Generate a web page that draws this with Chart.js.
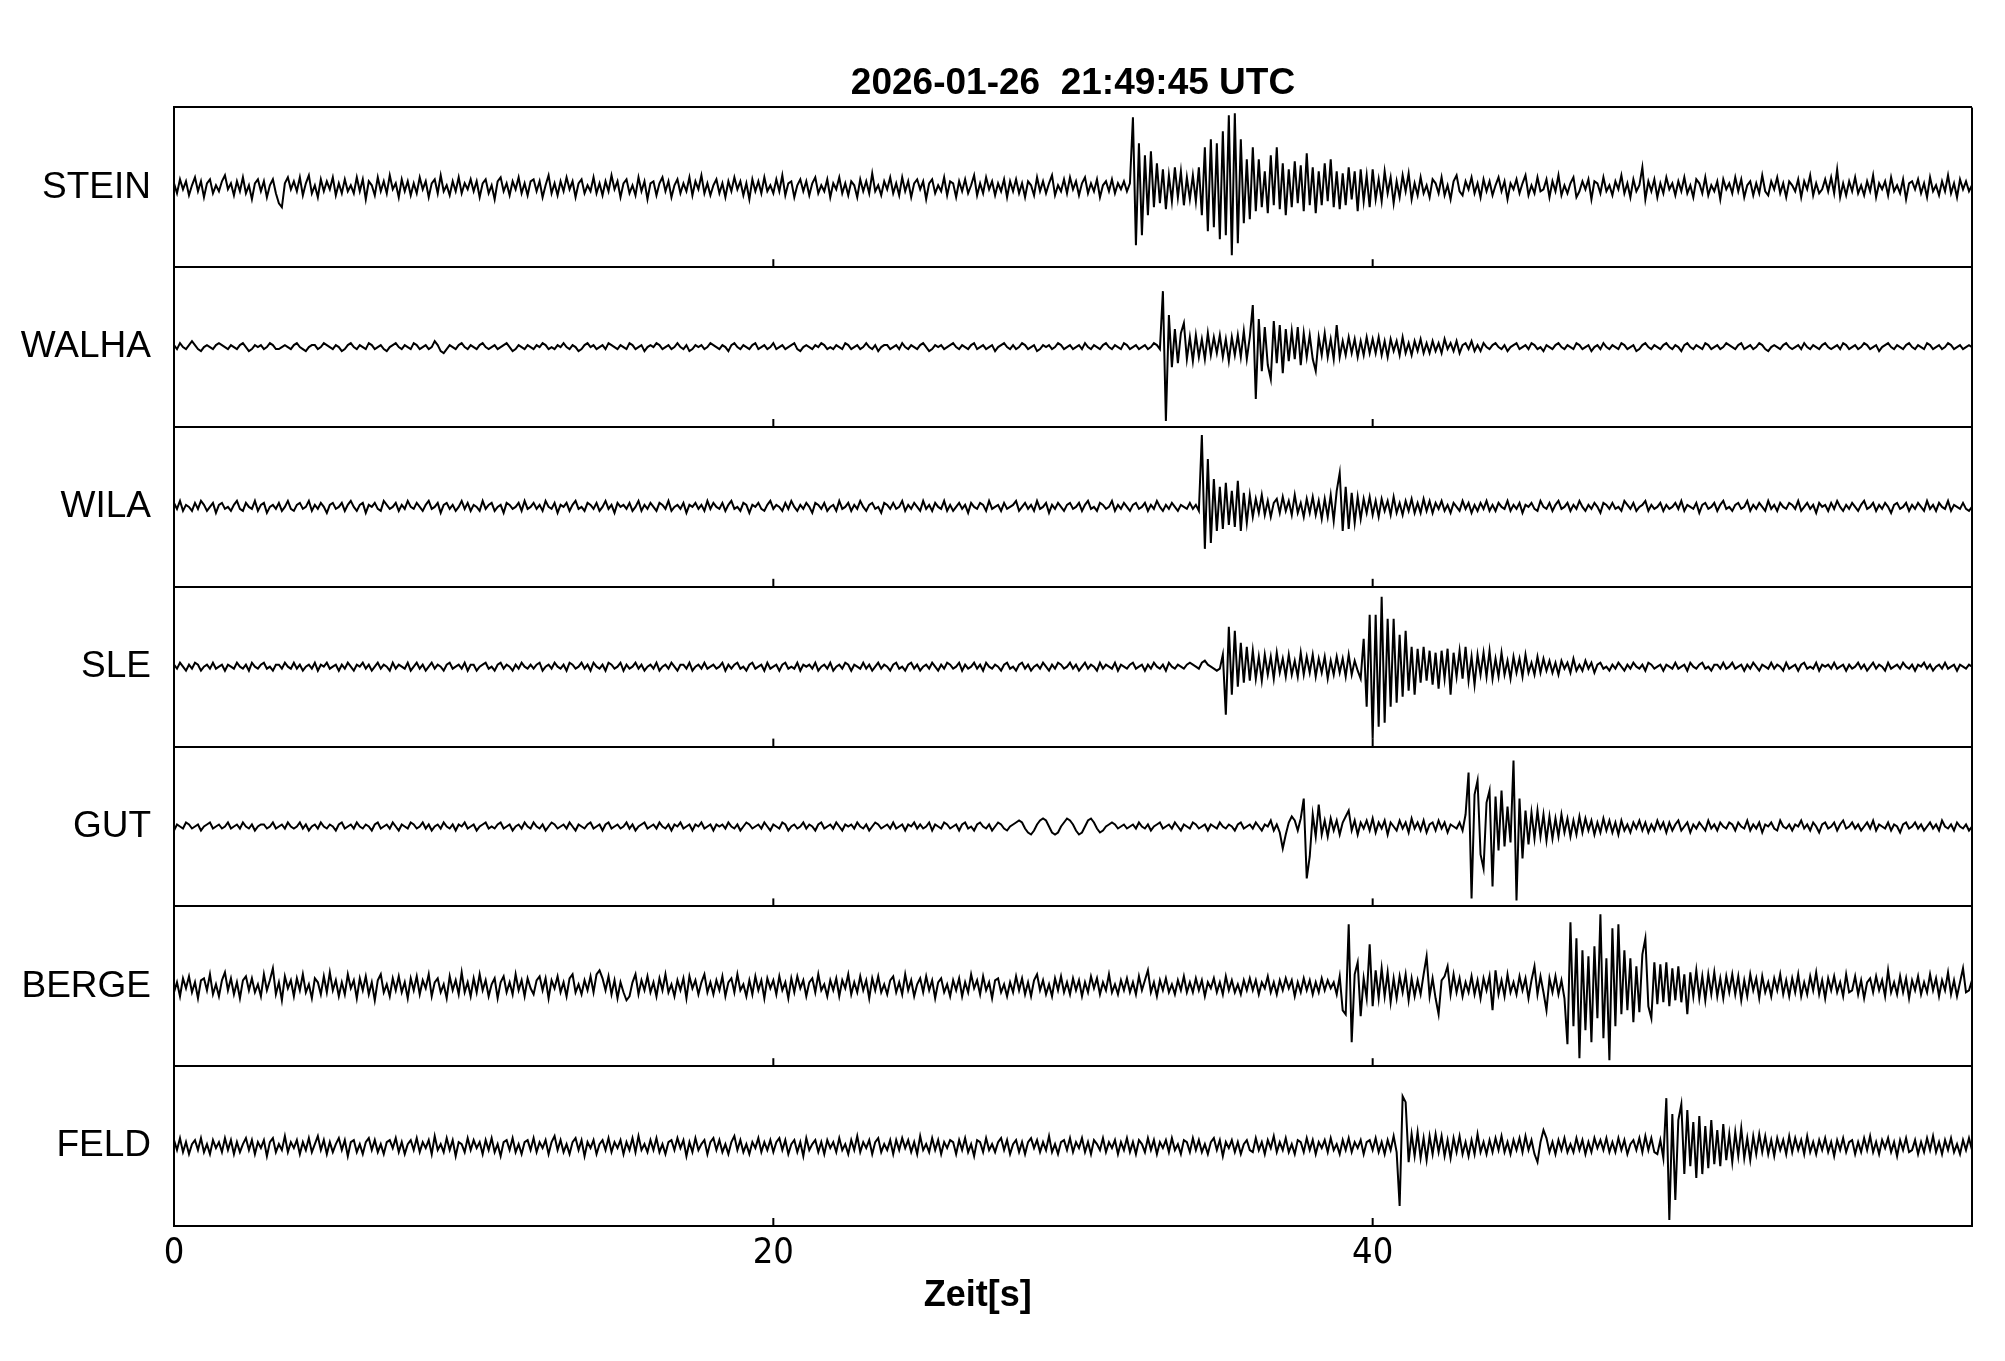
<!DOCTYPE html>
<html>
<head>
<meta charset="utf-8">
<title>Seismogramm</title>
<script src="https://cdn.jsdelivr.net/npm/chart.js@4.4.1/dist/chart.umd.min.js"></script>
<style>
  html, body { margin: 0; padding: 0; background: #fff; }
  #wrap { width: 2005px; height: 1361px; }
</style>
</head>
<body>
<div id="wrap"><canvas id="seis"></canvas></div>
<script>
// Stationen von oben nach unten
const stations = ["STEIN", "WALHA", "WILA", "SLE", "GUT", "BERGE", "FELD"];
const xTicks = [0, 20, 40];
const dt = 0.1; // Abtastung in s, 0..60 s

// Amplituden, eine Zeile = 2 s
const stein = [
  2,-3,4,-1,3,-4,1,5,-2,3,-5,2,4,-3,1,-2,3,6,-1,2,
  -4,3,-2,5,-3,1,-6,2,4,-2,3,-5,1,4,-3,-8,-10,2,5,-1,
  3,-2,5,-4,2,6,-3,1,-5,4,-2,3,-1,5,-4,2,-3,4,-2,1,
  -3,5,-2,4,-6,3,1,-4,5,-2,3,-3,6,-1,2,-5,4,-2,3,-4,
  2,-3,5,-1,3,-5,2,4,-3,6,-2,1,-4,3,-2,5,-3,2,-1,4,
  -2,3,-5,2,4,-3,1,-6,3,5,-2,2,-4,3,-1,5,-3,2,-4,3,
  4,-2,3,-5,1,6,-3,2,-4,3,-2,5,-1,3,-5,2,4,-3,1,-2,
  5,-3,2,-4,3,-2,6,-1,3,-5,2,4,-3,1,-4,5,-2,3,-6,2,
  3,-4,2,5,-2,3,-5,1,4,-3,2,-2,5,-4,3,-1,6,-3,2,-4,
  1,4,-3,2,-5,3,-2,5,-1,3,-4,2,-6,4,-2,3,-3,5,-2,1,
  -3,4,-2,6,-4,2,3,-5,1,4,-2,3,-4,2,5,-3,1,-2,4,-5,
  2,-1,5,-3,2,-4,3,1,-5,4,-2,3,-3,7,-2,1,-4,3,-1,5,
  -3,2,-4,5,-2,3,-5,2,4,-1,3,-6,2,4,-3,1,-2,5,-4,3,
  2,-5,3,-2,4,-3,1,6,-4,2,-3,5,-1,3,-4,2,-2,4,-5,3,
  -2,4,-3,2,-5,3,1,-4,5,-2,3,-3,2,6,-4,1,-2,4,-3,5,
  -1,3,-4,2,5,-3,2,-2,4,-5,1,3,-2,4,-3,2,-1,3,-2,2,
  35,-29,22,-24,16,-14,18,-10,12,-8,9,-11,6,-7,10,-5,8,-9,5,-6,
  6,-7,10,-14,20,-22,24,-20,22,-26,28,-24,36,-34,37,-28,24,-18,14,-16,
  20,-12,14,-10,8,-13,16,-9,20,-11,12,-14,9,-10,13,-8,11,-12,17,-9,
  10,-13,8,-9,12,-7,14,-10,8,-11,7,-9,10,-6,8,-12,9,-7,6,-10,
  9,-6,4,-7,8,-3,5,-8,3,-5,6,-2,7,-6,2,-4,5,-3,1,-5,
  4,2,-3,5,-4,1,-6,3,6,-2,-4,3,-1,5,-3,2,-5,4,-2,3,
  -4,1,5,-2,3,-6,2,-1,4,-3,2,6,-4,1,-3,5,-2,-1,4,-5,
  3,-2,6,-4,1,-3,2,5,-5,-2,3,-1,4,-6,3,2,-3,5,-2,1,
  -4,3,-1,6,-3,2,-5,4,-2,1,10,-6,3,-2,4,-5,2,-3,5,-1,
  2,-4,3,-2,5,-3,1,-5,4,2,-3,5,-4,1,-2,3,-6,4,-1,2,
  -3,5,-2,4,-5,1,3,-4,2,-3,6,-2,-4,3,-1,5,-3,2,-5,3,
  1,-2,4,-5,3,-1,6,-4,2,-3,-1,4,-2,5,-3,9,-5,2,-4,3,
  -2,5,-3,1,-4,3,-2,6,-5,2,-1,3,-4,5,-2,1,-3,4,-6,2,
  3,-1,4,-3,2,-5,5,-2,1,-4,3,-2,6,-3,2,-5,4,-1,3,-2,
  1
];

const walha = [
  1,-1,2,0,-1,1,3,1,-1,-2,0,1,0,-1,1,2,1,0,-1,1,
  0,-1,1,2,0,-2,-1,1,0,1,-1,0,2,1,-1,-1,0,1,0,-1,
  1,2,0,-1,-2,0,1,1,-1,0,2,1,0,-1,1,0,-2,-1,1,2,
  0,-1,1,0,-1,2,1,-1,0,1,-1,-2,0,1,2,0,-1,1,0,-1,
  2,1,-1,0,1,-1,0,3,1,-2,-3,-1,1,0,-1,1,2,0,-1,1,
  0,-1,1,2,0,-1,0,1,-1,0,1,2,0,-2,-1,1,0,-1,1,0,
  -1,1,0,2,1,-1,0,-1,1,0,2,0,-1,1,0,-2,-1,1,2,0,
  1,-1,0,1,-1,2,1,0,-1,1,0,-1,2,1,-1,0,1,-2,0,1,
  0,2,1,-1,0,1,-1,0,2,0,-1,1,-2,-1,1,0,1,-1,0,2,
  1,0,-1,1,0,-2,1,2,0,-1,1,0,-1,1,2,-1,0,1,-1,0,
  2,-1,0,1,-1,0,1,2,-1,-2,0,1,0,-1,1,0,2,1,-1,0,
  -1,1,0,-1,2,1,-1,0,1,-1,0,2,0,-1,1,-2,0,1,1,-1,
  0,1,-1,2,0,-1,1,0,-1,1,2,0,-2,-1,1,0,1,-1,0,1,
  2,0,-1,1,0,-1,1,2,-1,0,1,-1,0,1,-2,0,1,2,0,-1,
  1,-1,0,2,1,-1,0,1,-2,-1,1,0,1,-1,0,2,1,-1,0,1,
  -1,0,1,-1,2,0,-1,1,0,-1,1,2,0,-1,1,0,-1,2,1,-1,
  0,1,-1,0,1,-1,0,2,1,-1,28,-37,16,-10,9,-8,7,12,-6,5,
  -7,6,-5,4,-6,7,-4,5,-3,6,-5,4,-7,5,-4,6,-5,8,-6,5,
  21,-26,14,-12,10,-9,-16,13,-8,11,-13,9,-7,8,-6,10,-9,7,-5,6,
  -6,-12,5,-4,7,-5,4,-6,11,-5,3,-4,5,-3,4,-5,3,-4,5,-3,
  4,-3,5,-4,3,-5,4,-2,3,-4,5,-3,2,-4,3,-2,4,-3,2,-3,
  3,-2,2,-3,4,-1,2,-2,3,-3,1,2,-1,3,-2,1,-2,2,0,-1,
  1,2,0,-1,1,-2,0,1,2,-1,0,1,-1,2,1,-1,0,-2,1,0,
  -1,1,2,0,-1,1,0,-1,2,1,-1,0,1,-2,0,1,-1,2,0,-1,
  1,0,-1,2,1,-1,0,1,-2,-1,1,2,0,-1,1,0,-1,1,2,0,
  -1,1,0,-2,1,2,0,-1,1,0,-1,2,1,-1,0,1,-1,0,2,1,
  0,-1,1,2,-1,0,1,-1,0,2,1,-1,-2,0,1,0,-1,1,2,0,
  -1,0,1,-1,2,0,-1,1,0,-1,1,2,0,-1,0,1,-1,2,1,-1,
  0,1,-1,0,2,1,-1,0,1,-2,0,1,2,0,-1,1,0,-1,1,2,
  0,-1,1,0,-1,2,1,-1,0,1,-1,0,2,1,-1,0,1,-1,0,1,
  0
];

const wila = [
  2,-1,3,-2,1,0,-2,2,-1,3,1,-2,0,2,-3,1,2,-1,0,-2,
  1,3,-1,-2,2,0,-1,3,-2,1,2,-3,0,1,-1,2,-2,0,3,-1,
  -2,1,2,-1,0,3,-2,1,-1,2,0,-3,1,2,-1,0,2,-2,1,3,
  0,-2,1,2,-3,1,0,2,-1,-2,3,1,-1,0,2,-2,1,-1,3,0,
  -1,2,0,-2,1,3,-1,0,2,-3,1,2,-1,1,-2,0,3,-1,2,-2,
  1,0,-2,3,-1,1,2,-2,0,1,-3,2,1,-1,0,2,-2,3,-1,0,
  2,-1,1,-2,3,0,-1,2,-3,1,0,2,-2,1,3,-1,0,-2,2,1,
  -1,2,-2,0,3,-1,1,-3,2,0,1,-1,2,-2,0,3,-2,1,-1,2,
  0,-2,2,1,-1,3,-2,0,1,-1,2,-3,1,0,2,-1,1,-2,3,-1,
  2,0,-1,2,-2,1,3,-1,0,-2,2,1,-3,1,0,2,-1,-2,1,3,
  -1,1,0,-2,2,-1,3,0,-2,1,-1,2,0,-3,2,1,-1,2,-2,0,
  1,-2,3,-1,0,2,-2,1,-1,3,0,-2,1,2,-1,0,-3,2,1,-1,
  2,-1,0,3,-2,1,-1,2,0,-2,3,-1,1,-2,2,0,-1,3,-2,1,
  -2,0,2,-1,1,-3,2,0,-1,2,1,-2,3,-1,0,1,-2,2,-1,0,
  1,3,-2,0,2,-1,1,-2,3,-1,0,2,-3,1,-1,2,0,-2,1,2,
  -1,0,2,-2,1,3,-1,0,-2,2,1,-1,0,3,-2,1,-1,2,0,-2,
  1,2,-1,0,2,-2,1,-1,3,0,-2,1,-1,2,0,-2,1,0,-1,2,
  -1,1,-2,36,-21,24,-18,14,-12,10,-11,12,-9,8,-10,13,-12,7,-8,6,
  -5,4,-3,6,-4,3,-5,2,4,-3,5,-2,3,-4,6,-3,2,-5,4,-3,
  5,-4,3,-6,4,-5,6,-7,8,17,-12,10,-11,7,-8,5,-6,4,-3,5,
  -4,3,-5,4,-2,3,-4,5,-3,2,-4,3,-2,4,-3,2,-3,4,-2,3,
  -3,2,-1,3,-2,1,-3,2,0,-2,3,-1,2,-3,1,-2,2,-1,3,-2,
  1,-2,2,0,-1,3,-2,1,-1,2,-3,1,0,2,-1,-2,3,0,-1,2,
  -2,1,3,-1,0,2,-2,1,-1,3,0,-2,1,-1,2,0,-3,2,1,-1,
  2,-1,0,-2,3,1,-1,2,-2,0,1,3,-2,1,-1,0,2,-2,1,-1,
  0,2,-1,3,-2,1,0,-1,2,-3,1,2,-1,0,2,-2,1,3,-1,0,
  -2,1,2,-1,0,3,-2,1,-1,2,0,-2,3,-1,1,-2,2,0,-1,2,
  1,-1,3,-2,0,2,-1,1,-3,2,0,1,-2,2,-1,3,0,-2,1,-1,
  2,0,-2,1,3,-1,0,2,-2,1,-1,2,0,-3,1,2,-1,0,2,-2,
  1,-1,2,0,-2,3,-1,1,-2,2,0,-1,3,-2,1,0,-1,2,-1,-2,
  0
];

const sle = [
  1,-1,2,0,-2,1,-1,2,1,-2,0,1,-1,2,-1,0,1,-2,1,0,
  -1,2,0,-1,1,-2,2,0,-1,1,2,-1,0,-2,1,1,-1,2,0,-1,
  2,-1,1,-2,0,1,-1,2,-2,1,0,2,-1,0,1,-2,1,-1,2,0,
  -2,1,0,2,-1,1,-2,0,2,-1,1,0,-2,2,-1,1,0,-1,2,-2,
  0,2,-1,1,-2,0,2,-1,1,0,-2,1,2,-1,0,1,-1,2,-2,1,
  1,-2,0,1,2,-1,0,-2,1,2,-1,1,0,-2,1,-1,2,0,-1,1,
  -1,1,2,-2,0,1,-1,2,0,-1,1,-2,2,1,-1,0,2,-1,1,-2,
  2,0,-1,1,-2,2,1,-1,0,2,-2,1,-1,0,2,-1,1,-2,0,1,
  -1,2,-2,0,1,-1,2,0,-2,1,1,-1,2,-2,0,1,-1,2,-1,0,
  1,-1,0,2,-2,1,-1,1,2,-1,0,-2,1,2,-1,0,1,-2,2,-1,
  0,1,-2,1,2,-1,0,-1,2,-2,1,0,1,-1,2,-2,0,1,-1,2,
  -2,0,1,-1,2,1,-2,1,0,-1,2,-1,1,-2,0,2,-1,1,0,-2,
  1,2,-1,0,-2,1,2,-1,1,-2,0,1,-1,2,0,-2,1,-1,2,1,
  -1,0,2,-2,1,-1,0,2,-1,1,-2,2,0,-1,1,0,-2,1,2,-1,
  0,-2,1,2,-1,1,-2,0,1,-1,2,0,-2,1,-1,2,1,-1,0,2,
  -1,1,-2,0,2,-1,1,0,-2,2,-1,1,0,-1,2,-2,1,0,-1,1,
  2,-1,0,1,-2,1,-1,2,0,-1,1,-2,2,0,-1,1,0,-1,1,2,
  1,0,-1,2,3,1,0,-1,-2,-1,6,-24,20,-14,18,-10,12,-8,10,-7,
  8,-6,5,-7,6,-4,5,-6,7,-3,4,-5,6,-4,3,-5,7,-4,5,-3,
  6,-5,4,-3,5,-6,3,-4,5,-3,4,-5,6,-4,3,-2,-6,14,-20,26,
  -36,26,-30,35,-28,24,-20,24,-18,16,-15,18,-12,10,-14,9,-8,10,-7,8,
  -9,7,-11,8,-6,9,-14,7,-5,8,-6,10,-7,5,-9,6,-4,7,-5,8,
  -6,4,-5,7,-4,3,-6,5,-3,4,-5,6,-3,2,-4,5,-3,4,-2,3,
  -3,2,-4,3,-1,2,-3,4,-2,1,-2,3,-1,2,-3,1,2,-1,0,-2,
  1,-1,2,0,-2,1,-1,2,0,-1,1,-2,2,1,-1,0,1,-2,1,0,
  -1,2,-1,0,1,-2,2,0,-1,1,2,-1,0,-2,1,1,-1,2,-1,0,
  2,-1,0,1,-2,1,-1,2,0,-2,1,0,-1,2,-1,1,0,-2,2,-1,
  0,1,-2,1,2,-1,0,-1,2,-2,1,0,1,-1,2,-1,0,1,-2,1,
  -1,0,2,-1,1,-2,0,2,-1,1,0,-2,2,-1,0,1,-1,2,0,-1,
  1,-2,1,0,2,-1,1,-2,0,1,-1,2,-1,0,1,-2,1,0,-1,1,
  0
];

const gut = [
  -2,1,0,-1,2,1,-1,0,1,-2,0,1,2,-1,0,1,-1,0,2,-1,
  0,1,-1,2,0,-1,1,-2,0,1,1,-1,0,2,-1,0,1,-1,2,0,
  -1,0,2,-1,1,-2,0,1,-1,2,0,-1,1,0,-2,1,2,-1,0,1,
  -1,2,0,-1,1,0,-2,1,2,-1,0,1,-1,2,0,-2,1,0,-1,2,
  1,-1,0,2,-1,1,-2,0,1,-1,2,0,-1,1,-2,1,0,2,-1,0,
  1,-2,0,1,2,-1,0,-1,1,2,-1,0,1,-2,0,1,-1,2,0,-1,
  2,0,-1,1,-2,0,2,1,-1,0,1,-1,2,0,-2,1,0,-1,1,2,
  -1,0,1,-2,1,2,-1,0,1,-1,0,2,-1,1,-2,0,1,2,-1,0,
  1,-1,2,0,-1,1,-2,1,0,2,-1,0,1,-2,1,0,2,-1,0,1,
  -2,1,0,1,-1,2,0,-1,1,-2,0,2,1,-1,0,1,-1,2,0,-2,
  1,0,-1,2,1,-2,0,1,-1,0,2,-1,1,0,-2,1,2,-1,0,1,
  -1,2,0,-2,1,0,1,-1,2,0,-1,1,-2,0,2,1,-1,0,1,-1,
  2,-1,0,1,-2,1,0,2,-1,1,-1,0,2,-2,1,0,-1,2,1,-1,
  0,1,-2,1,2,-1,0,-2,1,2,0,-1,1,-2,0,2,1,-1,-2,0,
  1,2,3,2,-1,-3,-4,-2,1,3,4,3,0,-3,-4,-3,0,2,4,3,
  1,-2,-4,-3,0,3,4,2,-1,-3,-2,0,1,2,1,-1,0,1,-1,0,
  1,-1,2,0,-1,1,-2,0,1,2,-1,0,1,-1,2,0,-2,1,0,-1,
  2,1,-1,0,1,-2,1,0,-1,2,0,-1,1,0,-2,1,2,-1,0,1,
  -1,2,0,-2,1,0,3,-2,1,-3,-11,-4,2,5,3,-2,4,14,-26,-15,
  6,-5,11,-4,3,-5,4,-2,3,-4,2,5,8,-2,3,-4,2,-1,3,-2,
  4,-3,2,-1,3,-4,2,0,-2,3,-1,2,-3,4,-1,2,-2,3,-3,1,
  2,-2,3,-1,2,-3,1,0,-1,2,-2,6,27,-36,16,23,-14,-21,12,18,
  -30,15,-12,18,-10,10,-8,33,-37,14,-16,8,-9,7,-6,8,-5,6,-7,5,
  -6,4,-5,6,-3,4,-5,3,-4,5,-3,4,-2,3,-4,2,-3,4,-2,3,
  -3,2,-4,3,-2,1,-3,2,-1,3,-2,2,-3,1,-2,3,-1,2,-3,2,
  -2,1,3,-2,0,2,-3,1,-1,2,0,-2,3,-1,1,-2,2,0,-1,2,
  1,-2,2,0,-1,3,-2,1,-1,2,-3,1,0,2,-1,-2,3,0,-1,1,
  -2,1,0,3,-1,1,-2,2,0,-3,1,2,-1,0,2,-2,1,3,-1,0,
  2,-1,1,-2,0,2,-1,3,-2,1,0,-1,2,-2,1,0,-3,1,2,-1,
  0,2,-1,1,-2,0,2,-1,1,-2,3,0,-1,1,-2,2,0,-1,1,-2,
  0
];

const berge = [
  -3,2,-5,4,-1,5,-3,2,-6,3,4,-2,6,-4,1,-5,3,7,-2,4,
  -4,2,-6,3,5,-2,4,-3,1,-5,6,-2,3,9,-4,2,-7,5,-1,3,
  -5,4,-2,6,-3,1,-6,4,2,-4,5,-3,7,-2,3,-5,2,-4,6,-1,
  3,-6,4,-2,5,-4,2,-7,3,6,-3,1,-5,4,-2,5,-3,2,-6,4,
  -2,5,-4,3,-1,6,-5,2,4,-3,1,-6,5,-2,3,-4,7,-3,2,-5,
  4,-3,6,-2,3,-5,1,4,-6,2,5,-3,2,-4,6,-2,3,-5,4,-1,
  -4,3,5,-2,4,-6,3,-1,5,-3,2,-5,4,6,-3,1,-4,3,-2,5,
  -3,6,8,4,-2,5,-4,3,-6,2,-3,-7,-5,2,6,-4,3,-2,5,-3,
  2,-5,4,-2,6,-3,1,-5,3,-2,4,-6,5,-1,3,-4,2,6,-3,2,
  -4,3,-2,5,-5,2,4,-3,6,-2,1,-5,3,-4,5,-2,3,-6,4,-1,
  3,-4,5,-2,2,-6,4,-3,5,-1,3,-5,2,4,-3,6,-2,1,-5,3,
  -2,4,-5,3,-1,6,-4,2,-3,5,-2,3,-6,4,-2,5,-3,1,-4,3,
  5,-3,2,-4,6,-2,3,-5,1,4,-3,5,-2,3,-6,2,4,-3,1,-5,
  3,-2,4,-5,2,-3,6,-1,3,-4,5,-2,2,-6,3,4,-3,1,-5,2,
  -3,5,-2,4,-4,2,-5,3,6,-2,3,-4,1,-5,4,-2,5,-3,2,-4,
  4,-2,3,-5,2,-3,5,-1,4,-4,2,-2,6,-3,1,-4,3,-2,4,-3,
  2,-4,5,-2,3,8,-3,2,-5,3,-2,4,-3,1,-4,3,-2,5,-3,2,
  -3,4,-2,3,-5,2,-1,4,-3,2,-4,5,-2,3,-3,1,-4,3,-2,4,
  -2,3,-4,2,-1,5,-3,2,-4,3,-2,4,-1,3,-5,2,-3,4,-2,3,
  -4,2,-3,4,-2,3,-1,2,-4,5,-12,-14,31,-28,6,12,-15,4,-6,21,
  -10,8,-6,9,-5,7,-8,4,-6,5,-3,6,-7,4,-5,3,-4,6,15,-5,
  4,-6,-14,3,5,10,-4,6,-3,4,-5,2,-3,5,-4,3,-6,4,-2,5,
  -12,8,-4,3,-5,6,-3,2,-4,5,-2,4,-6,3,10,-4,5,-3,-12,4,
  -3,5,-4,3,-6,-29,32,-20,24,-36,18,-22,15,-28,20,-16,36,-26,14,-37,
  29,-20,31,-14,18,-12,14,-18,10,-13,16,24,-10,-16,12,-9,11,-8,12,-10,
  9,-7,10,-8,6,-14,7,-5,8,-6,5,-7,6,-4,7,-5,4,-6,5,-3,
  6,-4,5,-7,3,-5,6,-2,4,-6,5,-3,2,-5,4,-2,6,-4,3,-5,
  4,-3,6,-5,2,-4,5,-2,7,-4,3,-6,4,-2,5,-3,2,-5,6,-3,
  -2,5,-4,3,-6,2,4,-3,5,-2,3,-5,8,-3,2,-4,5,-3,4,-6,
  3,-2,5,-4,2,-3,6,-2,4,-5,3,-2,7,-4,3,-5,2,9,-3,-2,
  3
];

const feld = [
  3,-2,4,-3,2,-4,1,3,-2,4,-3,1,-4,3,-1,2,-3,4,-2,3,
  -4,2,-3,1,4,-2,3,-4,2,-1,3,-5,2,4,-3,1,-2,5,-3,2,
  -1,3,-4,2,-2,4,-3,1,5,-2,3,-4,2,-3,1,4,-2,3,-5,2,
  3,-3,1,-4,2,4,-2,3,-3,1,-4,2,3,-1,4,-3,2,-4,1,3,
  -2,4,-3,2,-1,3,-4,5,-2,1,-3,4,-2,3,-5,2,1,-3,4,-2,
  3,-1,2,-4,3,-2,4,-3,1,-5,2,3,-2,4,-3,1,-4,2,3,-2,
  4,-3,2,-1,3,-4,2,5,-2,3,-3,1,-4,2,4,-2,3,-5,2,-1,
  3,-4,1,3,-2,4,-3,2,-1,3,-4,2,-2,4,-3,5,-2,1,-3,3,
  -2,4,-3,1,-4,2,3,-2,4,-1,3,-5,2,-3,4,-2,1,3,-4,2,
  4,-2,3,-3,1,-4,2,5,-2,3,-3,1,-4,2,-1,4,-3,2,-2,3,
  -3,2,4,-2,3,-4,1,3,-3,2,-5,4,-2,1,3,-3,2,-4,3,-1,
  2,-3,4,-2,1,-4,3,-2,5,-3,2,-1,3,-4,2,4,-3,1,-2,3,
  -4,3,-2,4,-1,3,-3,2,-4,5,-2,1,-3,4,-2,3,-4,2,-1,3,
  2,-4,3,-2,4,-3,1,-5,3,2,-3,4,-2,1,-3,2,4,-2,3,-4,
  1,3,-3,2,-4,2,4,-1,3,-3,2,-2,5,-3,1,-4,2,3,-2,4,
  -3,2,-1,4,-3,2,-4,3,1,-2,4,-3,2,-1,3,-4,2,-2,4,-3,
  2,-4,3,1,-3,4,-2,3,-4,2,-1,3,-3,4,-2,1,-4,3,2,-3,
  4,-2,3,-3,1,-4,2,4,-2,3,-5,2,-1,3,-3,2,-4,1,3,-2,
  -3,4,-2,2,-4,3,-1,5,-3,2,-2,4,-3,1,-4,3,2,-3,4,-2,
  3,-4,2,-1,3,-3,4,-2,1,-4,3,-2,4,-3,2,-1,3,-4,2,3,
  -2,4,-3,2,-4,3,-2,5,-3,-30,25,22,-8,6,-5,7,-6,4,-7,5,
  -4,6,-3,5,-5,3,-6,4,-3,5,-4,2,-5,3,-4,6,-3,2,-4,3,
  -3,4,-2,5,-3,2,-4,3,-2,4,-3,5,-2,3,-4,-8,2,8,4,-3,
  2,-4,3,-2,4,-3,1,-3,4,-2,3,-4,2,-3,4,-1,3,-2,4,-3,
  2,-3,4,-2,3,-4,1,3,-2,4,-3,5,-2,4,-3,-4,3,-6,24,-37,
  16,-27,13,21,-14,18,-10,12,-16,15,-14,10,-11,13,-9,8,-10,11,-7,6,
  -8,7,-5,9,-6,4,-7,5,-4,6,-3,5,-4,3,-5,4,-2,3,-4,5,
  -3,4,-2,3,-4,5,-3,2,-4,3,-2,4,-3,2,-5,3,-2,4,-3,2,
  3,-4,2,-3,4,-2,5,-3,2,-4,3,-1,4,-3,2,-5,3,-2,4,-3,
  -2,3,-4,2,-3,4,-2,5,-3,2,-4,3,-2,4,-3,1,-4,3,-2,4,
  -2
];

const traces = [stein, walha, wila, sle, gut, berge, feld];

const PANEL = 80;                       // Hoehe einer Spur in Amplituden-Einheiten
const yMax = PANEL * stations.length;
const baseline = k => yMax - PANEL / 2 - k * PANEL;

const datasets = traces.map((vals, k) => ({
  label: stations[k],
  data: vals.map((v, i) => ({ x: Math.round(i * dt * 10) / 10, y: baseline(k) + v })),
  borderColor: "#000",
  borderWidth: 2,
  pointRadius: 0,
  tension: 0,
  fill: false
}));

const sansFont = "'Liberation Sans', Arial, Helvetica, sans-serif";
const narrowFont = "'Liberation Sans Narrow', 'DejaVu Sans Condensed', 'Liberation Sans', sans-serif";

// kleine Striche bei 20 s und 40 s am unteren Rand jeder Spur, plus Achsenbeschriftung
const panelTicks = {
  id: "panelTicks",
  afterDatasetsDraw(chart) {
    const { ctx, scales: { x, yGrid } } = chart;
    ctx.save();
    ctx.strokeStyle = "#000";
    ctx.lineWidth = 2;
    for (let k = 0; k < stations.length; k++) {
      const yb = yGrid.getPixelForValue(k * PANEL);
      xTicks.slice(1).forEach(t => {
        const px = x.getPixelForValue(t);
        ctx.beginPath();
        ctx.moveTo(px, yb);
        ctx.lineTo(px, yb - 8);
        ctx.stroke();
      });
    }
    ctx.restore();
  },
  afterDraw(chart) {
    const { ctx, chartArea } = chart;
    ctx.save();
    ctx.fillStyle = "#000";
    ctx.font = "bold 36px " + sansFont;
    ctx.textAlign = "center";
    ctx.textBaseline = "middle";
    ctx.fillText("Zeit[s]", chartArea.left + (chartArea.right - chartArea.left) * 0.447, chart.height - 65);
    ctx.restore();
  }
};

new Chart(document.getElementById("seis"), {
  type: "line",
  data: { datasets },
  options: {
    responsive: true,
    maintainAspectRatio: false,
    animation: false,
    devicePixelRatio: 1,
    layout: { padding: { right: 33 } },
    plugins: {
      legend: { display: false },
      tooltip: { enabled: false },
      title: {
        display: true,
        text: "2026-01-26  21:49:45 UTC",
        color: "#000",
        fullSize: false,
        font: { family: sansFont, size: 37, weight: "bold" },
        padding: { top: 62, bottom: 1 }
      }
    },
    scales: {
      x: {
        type: "linear",
        min: 0,
        max: 60,
        afterFit: s => { s.height = 135; },
        ticks: {
          stepSize: 20,
          color: "#000",
          padding: 6,
          maxRotation: 0,
          font: { family: narrowFont, size: 36 },
          callback: v => xTicks.includes(v) ? String(v) : ""
        },
        grid: {
          drawTicks: false,
          lineWidth: 2,
          color: c => (c.tick && (c.tick.value === 0 || c.tick.value === 60)) ? "#000" : "rgba(0,0,0,0)"
        },
        border: { display: true, color: "#000", width: 2 }
      },
      y: {
        type: "linear",
        position: "left",
        min: 0,
        max: yMax,
        afterFit: s => { s.width = 174; },
        afterBuildTicks: s => { s.ticks = stations.map((n, k) => ({ value: baseline(k) })); },
        ticks: {
          color: "#000",
          padding: 23,
          autoSkip: false,
          font: { family: sansFont, size: 37 },
          callback: v => stations[Math.round((yMax - PANEL / 2 - v) / PANEL)]
        },
        grid: { display: false, drawTicks: false },
        border: { display: true, color: "#000", width: 2 }
      },
      yGrid: {
        type: "linear",
        position: "left",
        min: 0,
        max: yMax,
        afterFit: s => { s.width = 0; },
        ticks: { display: false, stepSize: PANEL },
        grid: { color: "#000", lineWidth: 2, drawTicks: false },
        border: { display: false }
      }
    }
  },
  plugins: [panelTicks]
});
</script>
</body>
</html>
